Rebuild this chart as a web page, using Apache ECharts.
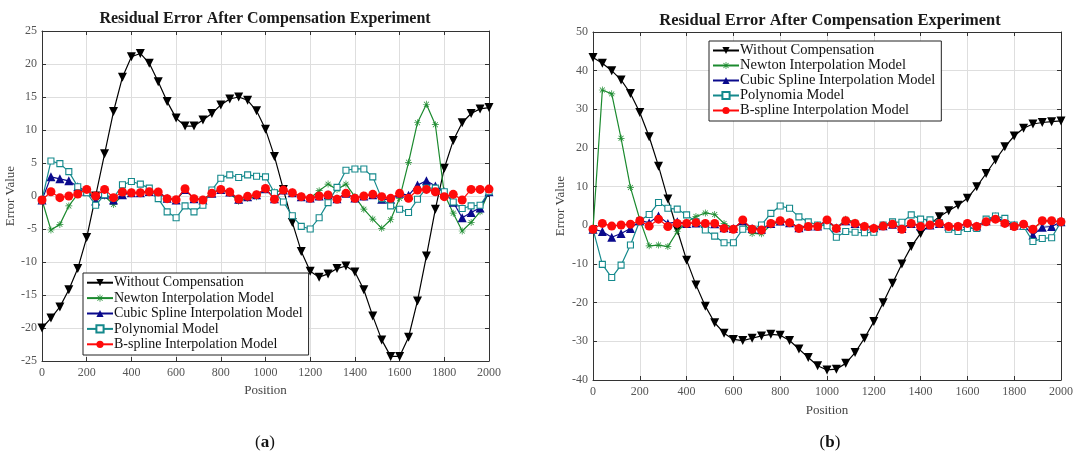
<!DOCTYPE html>
<html>
<head>
<meta charset="utf-8">
<script src="https://cdn.jsdelivr.net/npm/echarts@6/dist/echarts.min.js"></script>
<style>html,body{margin:0;padding:0;background:#fff}#c{width:1076px;height:460px}</style>
</head>
<body>
<div id="c"></div>
<script>
// ---- data ----
const positions = [0,40,80,120,160,200,240,280,320,360,400,440,480,520,560,600,640,680,720,760,800,840,880,920,960,1000,1040,1080,1120,1160,1200,1240,1280,1320,1360,1400,1440,1480,1520,1560,1600,1640,1680,1720,1760,1800,1840,1880,1920,1960,2000];

// (a)
const aWithout = [-20,-18.5,-16.8,-14.2,-11,-6.3,0,6.4,12.8,18,21.1,21.6,20.1,17.3,14.3,11.8,10.6,10.6,11.5,12.5,13.8,14.7,15,14.5,12.9,10.1,6,1,-4,-8.4,-11.4,-12.3,-11.8,-11,-10.6,-11.5,-14.2,-18.2,-21.8,-24.3,-24.3,-21.4,-15.9,-9.1,-2,4.2,8.4,11.1,12.5,13.2,13.4];
const aNewton = [-0.6,-5.15,-4.3,-1.5,0.3,1.0,-0.6,0.0,-1.3,0.15,0.5,0.5,0.8,0.6,-0.35,-0.6,0.9,-0.4,-0.6,0.5,1.0,0.4,-0.8,-0.35,-0.1,1.1,0.6,0.9,0.4,-0.1,-0.35,0.8,1.8,1.0,1.8,-0.1,-2.0,-3.5,-4.9,-3.6,-0.35,5.1,11.1,13.9,10.8,0.3,-2.6,-5.3,-4.0,-2.4,0.65];
const aCubic = [-0.6,2.9,2.6,2.3,1.4,0.7,-0.75,0.25,-0.6,0.2,0.5,0.5,0.7,0.6,-0.35,-0.6,1.0,-0.4,-0.6,0.4,1.0,0.6,-0.5,-0.1,0.2,1.1,-0.4,0.9,0.5,-0.1,-0.3,0.0,0.2,-0.4,0.4,-0.3,0.0,0.2,-0.5,-0.5,0.4,0.1,1.65,2.3,1.5,0.65,-0.95,-3.3,-2.5,-1.8,0.65];
const aPoly = [-0.6,5.3,4.9,3.7,1.4,0.5,-1.4,0.2,-0.3,1.7,2.2,1.8,1.2,-0.4,-2.4,-3.3,-1.5,-2.4,-1.4,0.9,2.7,3.2,2.8,3.2,3.0,2.9,0.5,-0.9,-3.0,-4.6,-5.0,-3.3,-1.0,1.3,3.9,4.1,4.1,2.9,-0.4,-1.5,-2.0,-2.5,-0.5,1.2,1.2,0.65,-0.9,-1.9,-1.5,-1.4,0.65];
const aBspline = [-0.6,0.65,-0.25,0.0,0.3,1.0,0.0,1.0,-0.25,0.6,0.5,0.5,0.65,0.6,-0.4,-0.55,1.1,-0.4,-0.6,0.4,1.0,0.6,-0.45,-0.05,0.2,1.15,-0.5,0.9,0.5,-0.1,-0.35,0.0,0.15,-0.5,0.4,-0.35,0.0,0.25,-0.1,-0.35,0.4,-0.35,0.9,1.0,0.65,-0.1,0.25,-0.6,1.0,1.0,1.05];

// (b)
const bWithout = [43.4,41.9,40.0,37.6,34.1,29.2,22.9,15.3,6.8,-1.2,-9.0,-15.4,-20.9,-25.2,-27.9,-29.5,-29.8,-29.2,-28.6,-28.2,-28.4,-29.8,-32.0,-34.2,-36.3,-37.4,-37.2,-35.7,-32.9,-29.2,-24.9,-20.0,-15.0,-10.0,-5.5,-2.1,0.3,2.2,3.8,5.2,7.0,10.0,13.4,16.9,20.3,23.1,25.1,26.2,26.6,26.8,27.0];
const bNewton = [-1.0,35.0,34.0,22.5,9.8,1.5,-5.3,-5.1,-5.5,-1.6,0.8,2.3,3.2,2.8,0.5,-0.8,0.9,-2.1,-2.2,0.1,1.0,0.9,-0.7,-0.2,-0.3,1.2,-0.8,1.6,0.8,-0.2,-0.6,-0.1,0.4,-0.8,0.6,-0.2,0.2,0.6,-0.2,-0.2,0.6,-0.2,1.0,1.8,0.8,-0.1,0.3,-1.0,1.1,1.1,0.9];
const bCubic = [-1.0,-1.6,-3.1,-2.1,-0.8,1.2,0.7,2.4,0.5,0.9,0.5,0.6,0.5,0.4,-0.6,-0.8,1.2,-0.8,-1.0,0.5,1.1,0.7,-0.6,-0.2,-0.2,1.3,-0.6,1.2,0.5,-0.2,-0.6,-0.1,0.3,-0.8,0.5,-0.2,0.1,0.5,-0.2,-0.2,0.5,-0.2,1.2,2.2,0.9,0.0,0.0,-2.5,-0.5,-0.3,0.9];
const bPoly = [-1.0,-10.1,-13.5,-10.3,-5.1,1.2,2.8,5.9,4.4,4.2,2.7,0.9,-1.2,-2.8,-4.5,-4.5,-1.0,-1.0,0.1,3.1,5.0,4.4,2.2,0.9,0.1,-0.1,-3.1,-1.6,-1.8,-1.9,-1.8,0.1,0.9,0.8,2.7,1.6,1.4,0.7,-1.0,-1.6,-0.8,-0.8,1.6,2.4,1.8,0.1,-0.3,-4.2,-3.4,-3.2,0.9];
const bBspline = [-1.0,0.5,-0.2,0.1,0.3,1.2,-0.2,1.6,-0.3,0.5,0.5,0.7,0.5,0.5,-0.8,-1.0,1.4,-1.0,-1.2,0.5,1.2,0.7,-0.8,-0.3,-0.3,1.4,-0.8,1.2,0.5,-0.3,-0.8,-0.2,0.3,-1.0,0.5,-0.3,0.1,0.5,-0.3,-0.3,0.5,-0.3,0.9,1.6,0.5,-0.3,0.3,-1.0,1.2,1.2,0.9];

const namesA = ['Without Compensation','Newton Interpolation Model','Cubic Spline Interpolation Model','Polynomial Model','B-spline Interpolation Model'];
const namesB = ['Without Compensation','Newton Interpolation Model','Cubic Spline Interpolation Model','Polynomia Model','B-spline Interpolation Model'];
const titleText = 'Residual Error After Compensation Experiment';

// ---- styles ----
const SERIF = 'Liberation Serif, DejaVu Serif, serif';
const STAR = 'path://M-1,-10L1,-10L1,10L-1,10Z M-10,-1L10,-1L10,1L-10,1Z M-7.8,-6.4L6.4,7.8L7.8,6.4L-6.4,-7.8Z M-7.8,6.4L6.4,-7.8L7.8,-6.4L-6.4,7.8Z';
const styles = [
  {color:'#000000', symbol:'triangle', symbolRotate:180, symbolSize:9, filled:true},
  {color:'#1b8a2e', symbol:STAR, symbolRotate:0, symbolSize:7, filled:true},
  {color:'#0a0a8c', symbol:'triangle', symbolRotate:0, symbolSize:9, filled:true},
  {color:'#14898c', symbol:'rect', symbolRotate:0, symbolSize:6, filled:false},
  {color:'#ff0a0a', symbol:'circle', symbolRotate:0, symbolSize:9, filled:true}
];

const grids = [
  {left:42, top:31, width:447, height:330},
  {left:593, top:32, width:471, height:348}
];

function mkSeries(name, vals, gi, si) {
  const s = styles[si];
  return {
    type:'line', name:name, xAxisIndex:gi*2, yAxisIndex:gi*2,
    data: positions.map((p,i)=>[p, vals[i]]),
    symbol:s.symbol, symbolSize:s.symbolSize, symbolRotate:s.symbolRotate,
    showAllSymbol:true,
    lineStyle:{color:s.color, width:1.2},
    itemStyle: s.filled ? {color:s.color} : {color:'#ffffff', borderColor:s.color, borderWidth:1.1},
    emphasis:{disabled:true}, animation:false, z: 2+si
  };
}

const axisCommon = {
  axisLine:{show:true, onZero:false, lineStyle:{color:'#333', width:1}},
  axisTick:{show:true, inside:true, length:4, lineStyle:{color:'#333'}},
};
function xAxes(gi) {
  return [
    Object.assign({type:'value', gridIndex:gi, min:0, max:2000, interval:200, position:'bottom',
      axisLabel:{color:'#555', fontFamily:SERIF, fontSize:12, margin:6, formatter:v=>String(v)},
      splitLine:{show:true, lineStyle:{color:'#dedede', width:1}},
      name:'Position', nameLocation:'middle', nameGap: gi===0?21:24,
      nameTextStyle:{color:'#444', fontFamily:SERIF, fontSize:13}}, axisCommon),
    Object.assign({type:'value', gridIndex:gi, min:0, max:2000, interval:200, position:'top',
      axisLabel:{show:false}, splitLine:{show:false}}, axisCommon)
  ];
}
function yAxes(gi) {
  const mn = gi===0?-25:-40, mx = gi===0?25:50, iv = gi===0?5:10;
  return [
    Object.assign({type:'value', gridIndex:gi, min:mn, max:mx, interval:iv, position:'left',
      axisLabel:{color:'#555', fontFamily:SERIF, fontSize:12, margin:5, formatter:v=>String(v)},
      splitLine:{show:true, lineStyle:{color:'#dedede', width:1}},
      name:'Error Value', nameLocation:'middle', nameGap: gi===0?24:26,
      nameTextStyle:{color:'#444', fontFamily:SERIF, fontSize:13}}, axisCommon),
    Object.assign({type:'value', gridIndex:gi, min:mn, max:mx, interval:iv, position:'right',
      axisLabel:{show:false}, splitLine:{show:false}}, axisCommon)
  ];
}

const series = [];
[aWithout,aNewton,aCubic,aPoly,aBspline].forEach((v,i)=>series.push(mkSeries(namesA[i], v, 0, i)));
[bWithout,bNewton,bCubic,bPoly,bBspline].forEach((v,i)=>series.push(mkSeries(namesB[i], v, 1, i)));
series.push({type:'line', xAxisIndex:1, yAxisIndex:1, data:[], silent:true});
series.push({type:'line', xAxisIndex:3, yAxisIndex:3, data:[], silent:true});

function legend(names, left, top, fs, lh) {
  return {
    orient:'vertical', left:left, top:top, data:names,
    itemWidth:26, itemHeight:9, itemGap:0,
    padding:[2,6,3,3],
    borderColor:'#222', borderWidth:1, backgroundColor:'#fff',
    textStyle:{fontFamily:SERIF, fontSize:fs, color:'#111', lineHeight:lh, padding:[0,0,0,-4]},
    selectedMode:false, z:20
  };
}

const option = {
  backgroundColor:'#ffffff',
  animation:false,
  grid: grids.map(g=>Object.assign({containLabel:false}, g)),
  xAxis: [...xAxes(0), ...xAxes(1)],
  yAxis: [...yAxes(0), ...yAxes(1)],
  legend: [legend(namesA, 83, 273, 14, 15.4), legend(namesB, 709, 41, 14.5, 14)],
  series: series,
  graphic: [
    {type:'text', style:{text:titleText, x:265, y:19, align:'center', verticalAlign:'middle', font:'bold 16px '+SERIF, fill:'#1a1a1a'}},
    {type:'text', style:{text:titleText, x:830, y:21, align:'center', verticalAlign:'middle', font:'bold 16.5px '+SERIF, fill:'#1a1a1a'}},
    {type:'text', style:{text:'({b|a})', x:265, y:443, align:'center', verticalAlign:'middle', font:'17px '+SERIF, fill:'#111',
      rich:{b:{fontWeight:'bold', fontSize:17, fontFamily:SERIF}}}},
    {type:'text', style:{text:'({b|b})', x:830, y:443, align:'center', verticalAlign:'middle', font:'17px '+SERIF, fill:'#111',
      rich:{b:{fontWeight:'bold', fontSize:17, fontFamily:SERIF}}}}
  ]
};

const chart = echarts.init(document.getElementById('c'), null, {renderer:'canvas'});
chart.setOption(option);
</script>
</body>
</html>
